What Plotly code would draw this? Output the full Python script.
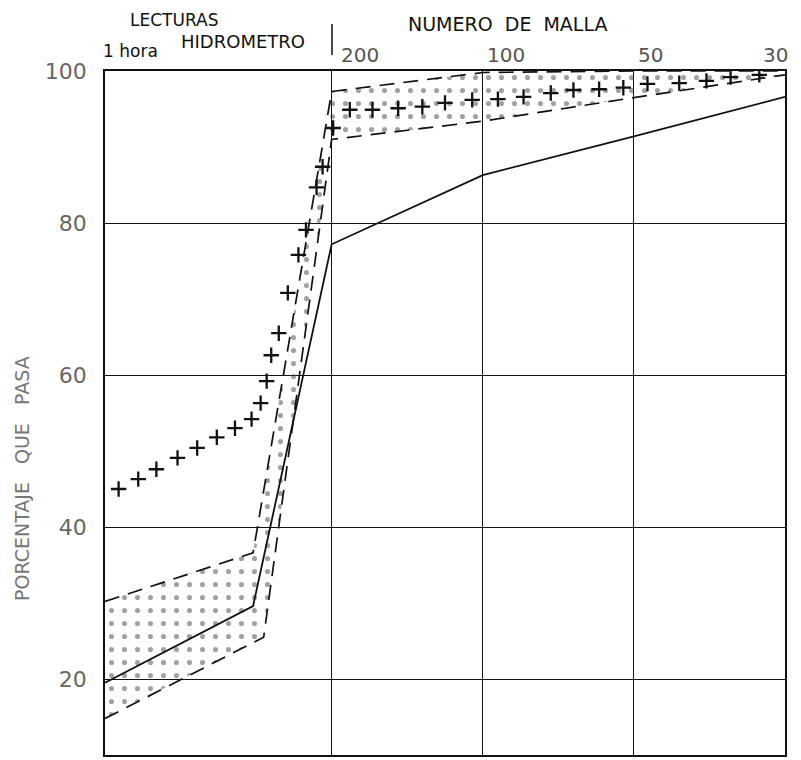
import plotly.graph_objects as go

# ---------------- data ----------------
mesh_labels = ["1 hora", "200", "100", "50", "30"]
mesh_pos = [0.0, 1.5, 2.5, 3.5, 4.5]

y_ticks = [20, 40, 60, 80, 100]

# solid curve
solid_x = [0.0, 0.98, 1.5, 2.5, 3.5, 4.5]
solid_y = [19.5, 29.6, 77.2, 86.3, 91.4, 96.6]

# upper dashed envelope
upper_x = [0.0, 0.98, 1.5, 2.5, 3.5, 4.5]
upper_y = [30.2, 36.6, 97.3, 99.8, 100.0, 100.0]

# lower dashed envelope
lower_x = [0.0, 1.05, 1.5, 2.5, 3.5, 4.5]
lower_y = [14.8, 25.5, 91.0, 93.4, 96.5, 99.5]

# plus-marker curve
plus_x = [0.09, 0.22, 0.34, 0.48, 0.61, 0.74, 0.86, 0.97, 1.03, 1.07, 1.10,
          1.15, 1.21, 1.28, 1.33, 1.40, 1.44, 1.51,
          1.62, 1.77, 1.94, 2.10, 2.25, 2.43, 2.60, 2.77, 2.95, 3.10, 3.27,
          3.43, 3.59, 3.80, 3.98, 4.14, 4.33]
plus_y = [45.0, 46.3, 47.6, 49.1, 50.4, 51.8, 53.0, 54.2, 56.3, 59.2, 62.6,
          65.5, 70.8, 75.8, 79.1, 84.7, 87.4, 92.5,
          94.9, 94.9, 95.1, 95.3, 95.8, 96.2, 96.3, 96.6, 97.1, 97.5, 97.6,
          97.8, 98.3, 98.4, 98.7, 99.2, 99.5]

title_left_1 = "LECTURAS"
title_left_2 = "HIDROMETRO"
title_right = "NUMERO  DE  MALLA"
y_title = "PORCENTAJE   QUE   PASA"

# ---------------- figure ----------------
FONT = "DejaVu Sans"
INK = "#111111"
GREY = "#555555"

fig = go.Figure()

# stippled band between the dashed envelopes
fig.add_trace(go.Scatter(
    x=upper_x + lower_x[::-1],
    y=upper_y + lower_y[::-1],
    mode="lines", fill="toself",
    line=dict(width=0, color="rgba(0,0,0,0)"),
    fillcolor="rgba(0,0,0,0)",
    fillpattern=dict(shape=".", fgcolor="#444444", bgcolor="rgba(0,0,0,0)",
                     size=13, solidity=0.12),
    hoverinfo="skip", showlegend=False,
))

fig.add_trace(go.Scatter(x=upper_x, y=upper_y, mode="lines",
                         line=dict(color=INK, width=1.7, dash="15px,9px"),
                         showlegend=False))
fig.add_trace(go.Scatter(x=lower_x, y=lower_y, mode="lines",
                         line=dict(color=INK, width=1.7, dash="15px,9px"),
                         showlegend=False))
fig.add_trace(go.Scatter(x=solid_x, y=solid_y, mode="lines",
                         line=dict(color=INK, width=1.8),
                         showlegend=False))
fig.add_trace(go.Scatter(x=plus_x, y=plus_y, mode="markers",
                         marker=dict(symbol="cross-thin", size=11,
                                     line=dict(width=2.3, color=INK)),
                         showlegend=False))

# top category labels
for lab, pos in zip(mesh_labels, mesh_pos):
    if lab == "1 hora":
        fig.add_annotation(x=pos, y=1, xref="x", yref="paper", text=lab,
                           showarrow=False, xanchor="left", yanchor="bottom",
                           xshift=-4, yshift=8,
                           font=dict(family=FONT, size=17, color=INK))
    elif pos == mesh_pos[-1]:
        fig.add_annotation(x=pos, y=1, xref="x", yref="paper", text=lab,
                           showarrow=False, xanchor="right", yanchor="bottom",
                           xshift=5, yshift=2,
                           font=dict(family=FONT, size=20, color=GREY))
    else:
        fig.add_annotation(x=pos, y=1, xref="x", yref="paper", text=lab,
                           showarrow=False, xanchor="left", yanchor="bottom",
                           xshift=7 if lab == "200" else 2, yshift=2,
                           font=dict(family=FONT, size=20, color=GREY))

# header texts
fig.add_annotation(x=(174 - 105) / 680, y=(755 - 20) / 684, xref="paper", yref="paper",
                   text=title_left_1, showarrow=False, xanchor="center", yanchor="middle",
                   font=dict(family=FONT, size=17, color=INK))
fig.add_annotation(x=(243 - 105) / 680, y=(755 - 42) / 684, xref="paper", yref="paper",
                   text=title_left_2, showarrow=False, xanchor="center", yanchor="middle",
                   font=dict(family=FONT, size=18, color=INK))
fig.add_annotation(x=(507 - 105) / 680, y=(755 - 24) / 684, xref="paper", yref="paper",
                   text=title_right, showarrow=False, xanchor="center", yanchor="middle",
                   font=dict(family=FONT, size=19, color=INK))
fig.add_annotation(x=(22 - 105) / 680, y=(755 - 479) / 684, xref="paper", yref="paper",
                   text=y_title, showarrow=False, textangle=-90,
                   xanchor="center", yanchor="middle",
                   font=dict(family=FONT, size=19, color="#777777"))

# short separator mark above the plot at the 200 line
fig.add_shape(type="line", xref="paper", yref="paper",
              x0=(332 - 105) / 680, x1=(332 - 105) / 680,
              y0=(755 - 55) / 684, y1=(755 - 24) / 684,
              line=dict(color=INK, width=1.5))

fig.update_layout(
    width=801, height=760,
    margin=dict(l=105, r=16, t=71, b=5),
    paper_bgcolor="white", plot_bgcolor="white",
    showlegend=False,
    xaxis=dict(range=[0, 4.5], tickvals=mesh_pos[1:-1], showticklabels=False,
               showgrid=True, gridcolor=INK, gridwidth=1.3,
               showline=True, mirror=True, linecolor=INK, linewidth=1.6,
               zeroline=False, ticks=""),
    yaxis=dict(range=[10, 100], tickvals=y_ticks,
               ticktext=[str(v) for v in y_ticks],
               showgrid=True, gridcolor=INK, gridwidth=1.3,
               showline=True, mirror=True, linecolor=INK, linewidth=1.6,
               zeroline=False, ticks="outside", ticklen=12, tickcolor="white",
               tickfont=dict(family=FONT, size=22, color="#666666")),
)

fig.write_html("out.html")
